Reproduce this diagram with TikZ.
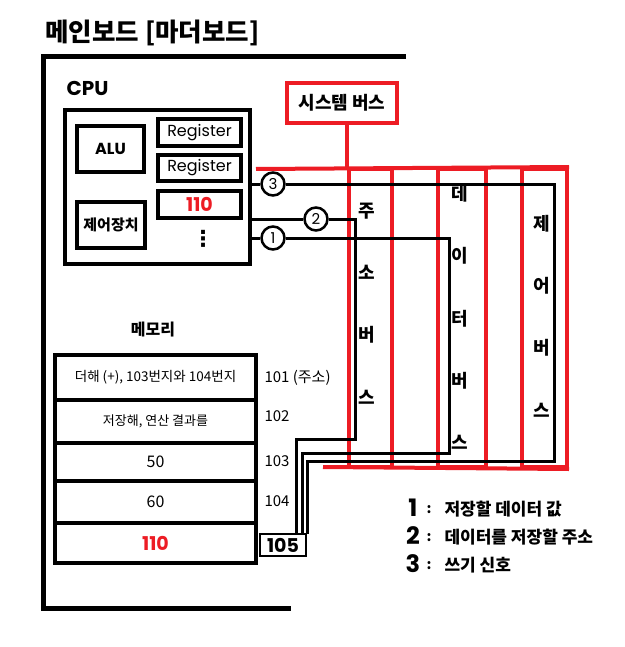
\documentclass[tikz,border=0pt]{standalone}
\usepackage{fontspec}
\setmainfont{Noto Sans CJK KR}
\newfontfamily\geo{Poppins}
\newfontfamily\djv{DejaVu Sans}
\definecolor{pred}{RGB}{237,28,36}
\begin{document}
\begin{tikzpicture}[x=1pt,y=-1pt,
  box/.style={draw, line width=4pt, inner sep=0pt},
  conn/.style={line width=3pt},
  redline/.style={draw=pred, line width=4pt},
  busbox/.style={draw=pred, line width=4pt, inner sep=0pt, minimum height=298pt},
  num/.style={circle, draw, fill=white, line width=2.5pt, minimum size=23pt, inner sep=0pt, font=\geo\fontsize{15}{15}\selectfont},
  fs/.style={font=\fontsize{#1}{#1}\selectfont},
  bfs/.style={font=\bfseries\fontsize{#1}{#1}\selectfont},
  geofs/.style={font=\geo\fontsize{#1}{#1}\selectfont},
  geobfs/.style={font=\geo\bfseries\fontsize{#1}{#1}\selectfont},
  buslbl/.style={align=center, inner sep=0pt, font=\bfseries\fontsize{18}{62.3}\selectfont},
]
\useasboundingbox (0,0) rectangle (624,647);
\fill[white] (0,0) rectangle (624,647);

% title and main board frame
\node[anchor=west, bfs=25.5] (title) at (42,33) {메인보드 [마더보드]};
\coordinate (fTR) at (406,57);
\coordinate (fTL) at (43,57);
\coordinate (fBL) at (43,608);
\coordinate (fBR) at (291,608);
\draw[line width=5pt] (fTR) -- (fTL) -- (fBL) -- (fBR);

% CPU
\node[anchor=west, geobfs=20] (cpulbl) at (63,88) {CPU};
\node[box, minimum width=185pt, minimum height=154pt] (cpu) at (157.5,187) {};
\node[box, minimum width=67pt, minimum height=46pt, geobfs=16] (alu) at (110.5,149) {ALU};
\node[box, minimum width=68pt, minimum height=46pt, bfs=15] (cu) at (111,225) {제어장치};
\node[box, minimum width=83pt, minimum height=27pt, geofs=16] (r1) at (199.5,132.5) {Register};
\node[box, minimum width=83pt, minimum height=26pt, geofs=16] (r2) at (199.5,168) {Register};
\node[box, minimum width=83pt, minimum height=27pt, geobfs=19] (r3) at (199.5,204.5) {\color{pred}110};
\node[font=\djv\bfseries\fontsize{22}{22}\selectfont] (dots) at (203,239) {⋮};

% system bus
\node[draw=pred, line width=4pt, minimum width=110pt, minimum height=40pt, inner sep=0pt, bfs=18] (sys) at (342,103) {시스템 버스};
\coordinate (stem) at (347,169);
\coordinate (tl) at (256,169);
\coordinate (bl) at (323,467);
\node[busbox, minimum width=43pt] (ab) at (370.5,318) {};
\node[busbox, minimum width=48pt] (db) at (462,318) {};
\node[busbox, minimum width=45pt] (cb) at (544.5,318) {};
\draw[redline] (sys.south -| stem) -- (stem);
\draw[redline] (tl) -- (cb.north east);
\draw[redline] (bl) -- (cb.south east);
\node[buslbl] (abl) at (367,303.5) {주\\소\\버\\스};
\node[buslbl] (dbl) at (460,317.5) {데\\이\\터\\버\\스};
\node[buslbl] (cbl) at (542,316) {제\\어\\버\\스};

% memory
\node[bfs=16] (memlbl) at (153,330) {메모리};
\node[box, minimum width=201pt, minimum height=45pt, fs=13.5] (m1) at (155.5,377.5) {더해 (+), 103번지와 104번지};
\node[box, minimum width=201pt, minimum height=43pt, fs=13] (m2) at (155.5,421.5) {저장해, 연산 결과를};
\node[box, minimum width=201pt, minimum height=38pt, fs=16] (m3) at (155.5,462) {50};
\node[box, minimum width=201pt, minimum height=42pt, fs=16] (m4) at (155.5,502) {60};
\node[box, minimum width=201pt, minimum height=40pt, geobfs=19] (m5) at (155.5,543) {\color{pred}110};
\node[anchor=west, fs=15] (a101) at (261,378) {101 (주소)};
\node[anchor=west, fs=15] (a102) at (261,416) {102};
\node[anchor=west, fs=15] (a103) at (261,461) {103};
\node[anchor=west, fs=15] (a104) at (261,501) {104};
\node[draw, line width=2pt, minimum width=46pt, minimum height=22pt, inner sep=0pt, geobfs=19] (m105) at (283,545) {105};

% circled signal numbers and connectors
\node[num] (n3) at (273,184) {3};
\node[num] (n2) at (316,219) {2};
\node[num] (n1) at (273,238) {1};
\coordinate (s3) at (cpu.east |- n3);
\coordinate (s2) at (cpu.east |- n2);
\coordinate (s1) at (cpu.east |- n1);
\coordinate (e2) at (296,534);
\coordinate (e1) at (302,534);
\coordinate (e3) at (307,534);
\draw[conn] (s3) -- (n3) (n3) -- (554,184) -- (554,461) -- (307,461) -- (e3);
\draw[conn] (s2) -- (n2) (n2) -- (355,219) -- (355,439) -- (296,439) -- (e2);
\draw[conn] (s1) -- (n1) (n1) -- (449,238) -- (449,453) -- (302,453) -- (e1);

% legend
\node[geobfs=24] (k1) at (413,508) {1};
\node[geobfs=24] (k2) at (413,536) {2};
\node[geobfs=24] (k3) at (413,564) {3};
\node[bfs=14] (k1c) at (429,510) {:};
\node[bfs=14] (k2c) at (429,538) {:};
\node[bfs=14] (k3c) at (429,566) {:};
\node[anchor=west, bfs=17] (k1t) at (441,509) {저장할 데이터 값};
\node[anchor=west, bfs=17] (k2t) at (441,537) {데이터를 저장할 주소};
\node[anchor=west, bfs=17] (k3t) at (441,565) {쓰기 신호};
\end{tikzpicture}
\end{document}
